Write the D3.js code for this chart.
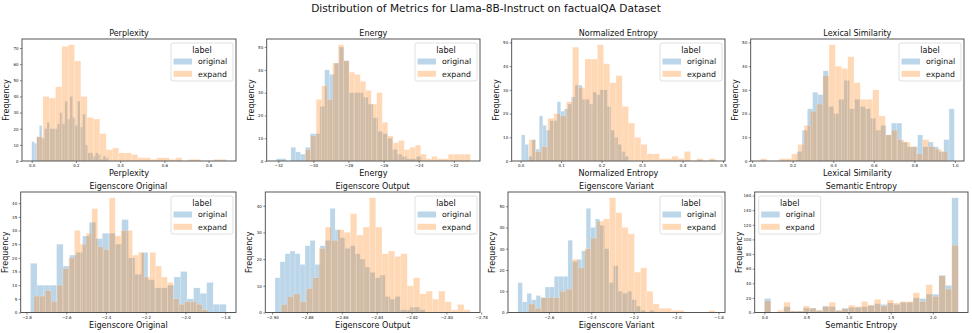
<!DOCTYPE html>
<html>
<head>
<meta charset="utf-8">
<script src="https://cdn.jsdelivr.net/npm/d3@7"></script>
<style>
  body { margin: 0; background: #fff; }
  text { font-family: "DejaVu Sans", sans-serif; fill: #111; }
</style>
</head>
<body>
<div id="chart"></div>
<script>
const svgWidth = 972;
const svgHeight = 333;

// bin counts (30 bins per series), and each series' [min, max]
const perplexityOriginal = [12,11,15,22,14,20,24,20,20,20,23,30,23,37,26,40,27,22,37,21,29,10,5,5,3,5,4,1,3,2];
const perplexityExpand = [15,40,39,46,71,72,62,40,27,26,17,7,8,5,5,4,2,2,1,2,2,1,2,0,1,1,0,0,1,1];
const perplexityRange = { original: [0.0, 0.346], expand: [0.022, 0.880] };

const energyOriginal = [1,1,0,6,4,3,6,12,12,24,40,38,43,50,44,30,30,30,28,25,19,13,12,10,5,3,2,1,1,2];
const energyExpand = [5,11,27,33,27,43,51,44,39,38,35,31,25,30,17,11,8,9,5,6,7,3,1,2,1,1,3,3,3,3];
const energyRange = { original: [-32.11, -23.85], expand: [-30.47, -21.06] };

const normEntropyOriginal = [11,7,2,9,5,19,15,13,17,17,25,21,22,24,27,32,32,26,26,24,29,28,30,30,23,13,10,7,4,2];
const normEntropyExpand = [9,4,6,18,20,19,25,48,31,43,43,49,41,33,36,23,16,10,7,3,3,1,1,2,1,4,0,1,0,1];
const normEntropyRange = { original: [0.002, 0.267], expand: [0.021, 0.481] };

const lexicalOriginal = [4,13,22,29,28,38,23,20,26,34,22,26,23,22,18,13,15,11,16,16,8,6,6,11,6,8,6,4,9,22];
const lexicalExpand = [1,0,0,1,1,3,7,15,21,24,36,49,40,39,44,33,26,26,30,19,11,13,9,8,6,3,9,6,5,4];
const lexicalRange = { original: [0.221, 0.997], expand: [0.041, 0.964] };

const eigOriginalOriginal = [18,10,10,10,25,17,21,22,28,33,27,29,29,25,34,20,14,22,12,9,9,10,13,15,5,9,7,11,3,3];
const eigOriginalExpand = [6,6,8,4,10,16,20,30,25,29,38,24,23,42,28,30,30,21,22,13,22,17,13,11,5,3,4,4,3,1];
const eigOriginalRange = { original: [-2.780, -1.795], expand: [-2.763, -1.887] };

const eigOutputOriginal = [13,19,22,23,22,18,25,27,18,25,27,39,31,28,24,25,22,20,17,15,13,14,6,5,6,1,1,2,2,1];
const eigOutputExpand = [3,6,7,4,9,13,24,32,27,31,30,37,29,32,43,32,22,23,21,22,10,13,7,8,5,8,4,1,3,1];
const eigOutputRange = { original: [-2.8983, -2.8122], expand: [-2.8948, -2.7863] };

const eigVariantOriginal = [14,5,9,6,8,7,12,12,17,17,17,34,24,25,29,49,40,44,41,30,14,22,10,9,10,6,3,1,0,1];
const eigVariantExpand = [4,2,7,7,7,10,11,25,21,30,35,43,44,54,47,40,37,19,21,10,4,2,2,1,1,0,0,0,0,1];
const eigVariantRange = { original: [-2.746, -2.102], expand: [-2.695, -1.816] };

const semEntropyOriginal = [19,0,0,8,2,2,6,6,3,9,8,3,6,7,7,8,10,12,11,13,11,14,14,20,19,25,25,51,37,157];
const semEntropyExpand = [16,0,3,14,2,2,9,6,3,8,14,3,5,10,8,15,10,18,9,17,13,15,15,27,15,38,22,50,32,92];
const semEntropyRange = { original: [0, 2.303], expand: [0, 2.303] };

// tick labels
const perplexityTicks = [0.0, 0.2, 0.4, 0.6, 0.8];
const energyTicks = [-32, -30, -28, -26, -24, -22];
const normEntropyTicks = [0.0, 0.1, 0.2, 0.3, 0.4, 0.5];
const lexicalTicks = [0.0, 0.2, 0.4, 0.6, 0.8, 1.0];
const eigOriginalTicks = [-2.8, -2.6, -2.4, -2.2, -2.0, -1.8];
const eigOutputTicks = [-2.90, -2.88, -2.86, -2.84, -2.82, -2.80, -2.78];
const eigVariantTicks = [-2.6, -2.4, -2.2, -2.0, -1.8];
const semEntropyTicks = [0.0, 0.5, 1.0, 1.5, 2.0];

const labels = ["original", "expand"];
const colors = { original: "#1f77b4", expand: "#ff7f0e" };

const panels = [
    { title: "Perplexity", original: perplexityOriginal, expand: perplexityExpand, range: perplexityRange,
      xTicks: perplexityTicks, xFmt: ".1f", yStep: 10 },
    { title: "Energy", original: energyOriginal, expand: energyExpand, range: energyRange,
      xTicks: energyTicks, xFmt: "d", yStep: 10 },
    { title: "Normalized Entropy", original: normEntropyOriginal, expand: normEntropyExpand, range: normEntropyRange,
      xTicks: normEntropyTicks, xFmt: ".1f", yStep: 10 },
    { title: "Lexical Similarity", original: lexicalOriginal, expand: lexicalExpand, range: lexicalRange,
      xTicks: lexicalTicks, xFmt: ".1f", yStep: 10 },
    { title: "Eigenscore Original", original: eigOriginalOriginal, expand: eigOriginalExpand, range: eigOriginalRange,
      xTicks: eigOriginalTicks, xFmt: ".1f", yStep: 5 },
    { title: "Eigenscore Output", original: eigOutputOriginal, expand: eigOutputExpand, range: eigOutputRange,
      xTicks: eigOutputTicks, xFmt: ".2f", yStep: 10 },
    { title: "Eigenscore Variant", original: eigVariantOriginal, expand: eigVariantExpand, range: eigVariantRange,
      xTicks: eigVariantTicks, xFmt: ".1f", yStep: 10 },
    { title: "Semantic Entropy", original: semEntropyOriginal, expand: semEntropyExpand, range: semEntropyRange,
      xTicks: semEntropyTicks, xFmt: ".1f", yStep: 20, legendLeft: true }
];

// axes boxes (pixels)
const boxes = [
    { left: 22, right: 236, top: 39, bottom: 161 },
    { left: 266.7, right: 480, top: 39, bottom: 161 },
    { left: 511.7, right: 725, top: 39, bottom: 161 },
    { left: 750.7, right: 964, top: 39, bottom: 161 },
    { left: 20.7, right: 236, top: 192, bottom: 312.5 },
    { left: 265.3, right: 480, top: 192, bottom: 312.5 },
    { left: 508, right: 725, top: 192, bottom: 312.5 },
    { left: 754.7, right: 968, top: 192, bottom: 312.5 }
];

let svg = d3.select("#chart")
    .append("svg")
    .attr("width", svgWidth)
    .attr("height", svgHeight);

svg.append("text")
    .attr("x", 486)
    .attr("y", 11.5)
    .attr("font-size", "10.6px")
    .attr("text-anchor", "middle")
    .text("Distribution of Metrics for Llama-8B-Instruct on factualQA Dataset");

function toBins(counts, range) {
    const step = (range[1] - range[0]) / counts.length;
    return counts.map((c, i) => ({ x0: range[0] + i * step, x1: range[0] + (i + 1) * step, count: c }));
}

panels.forEach(function(p, idx) {
    const box = boxes[idx];
    const w = box.right - box.left;
    const h = box.bottom - box.top;
    const g = svg.append("g").attr("transform", `translate(${box.left}, ${box.top})`);

    const lo = Math.min(p.range.original[0], p.range.expand[0]);
    const hi = Math.max(p.range.original[1], p.range.expand[1]);
    const pad = (hi - lo) * 0.05;
    const yMax = d3.max(p.original.concat(p.expand)) * 1.05;

    let xScale = d3.scaleLinear().domain([lo - pad, hi + pad]).range([0, w]);
    let yScale = d3.scaleLinear().domain([0, yMax]).range([h, 0]);

    labels.forEach(function(lab) {
        g.append("g").selectAll("rect")
            .data(toBins(p[lab], p.range[lab]))
            .enter()
            .append("rect")
            .attr("x", d => xScale(d.x0))
            .attr("width", d => Math.max(0, xScale(d.x1) - xScale(d.x0)))
            .attr("y", d => yScale(d.count))
            .attr("height", d => h - yScale(d.count))
            .attr("fill", colors[lab])
            .attr("fill-opacity", 0.3)
            .attr("stroke", "#fff")
            .attr("stroke-opacity", 0.35)
            .attr("stroke-width", 0.5);
    });

    const yTicks = d3.range(0, yMax, p.yStep);

    let xAxis = g.append("g")
        .attr("transform", `translate(0, ${h})`)
        .call(d3.axisBottom(xScale).tickValues(p.xTicks).tickFormat(d3.format(p.xFmt)).tickSize(2).tickPadding(1.5));
    let yAxis = g.append("g")
        .call(d3.axisLeft(yScale).tickValues(yTicks).tickFormat(d3.format("d")).tickSize(2).tickPadding(1.5));
    [xAxis, yAxis].forEach(a => {
        a.select(".domain").remove();
        a.selectAll("text").attr("font-size", "4px").attr("fill", "#111");
        a.selectAll("line").attr("stroke", "#333").attr("stroke-width", 0.6);
    });

    g.append("rect")
        .attr("width", w)
        .attr("height", h)
        .attr("fill", "none")
        .attr("stroke", "#444")
        .attr("stroke-width", 0.9);

    g.append("text")
        .attr("x", w / 2)
        .attr("y", -3.5)
        .attr("font-size", "8px")
        .attr("text-anchor", "middle")
        .text(p.title);

    g.append("text")
        .attr("x", w / 2)
        .attr("y", h + 15.3)
        .attr("font-size", "8.1px")
        .attr("text-anchor", "middle")
        .text(p.title);

    g.append("text")
        .attr("transform", "rotate(-90)")
        .attr("x", -h / 2)
        .attr("y", -13)
        .attr("font-size", "8px")
        .attr("text-anchor", "middle")
        .text("Frequency");

    // legend
    const lw = 62, lh = 38;
    const lx = p.legendLeft ? 4 : w - lw - 3;
    const leg = g.append("g").attr("transform", `translate(${lx}, 4)`);
    leg.append("rect")
        .attr("width", lw).attr("height", lh).attr("rx", 2)
        .attr("fill", "#fff").attr("fill-opacity", 0.8)
        .attr("stroke", "#ccc").attr("stroke-width", 0.6);
    leg.append("text")
        .attr("x", lw / 2).attr("y", 9.5)
        .attr("font-size", "8px").attr("text-anchor", "middle")
        .text("label");
    labels.forEach(function(lab, i) {
        const yy = 18.5 + i * 12.3;
        leg.append("rect")
            .attr("x", 2.5).attr("y", yy - 3)
            .attr("width", 18.5).attr("height", 6)
            .attr("fill", colors[lab]).attr("fill-opacity", 0.3);
        leg.append("text")
            .attr("x", 27).attr("y", yy + 2.8)
            .attr("font-size", "7.8px")
            .text(lab);
    });
});
</script>
</body>
</html>
